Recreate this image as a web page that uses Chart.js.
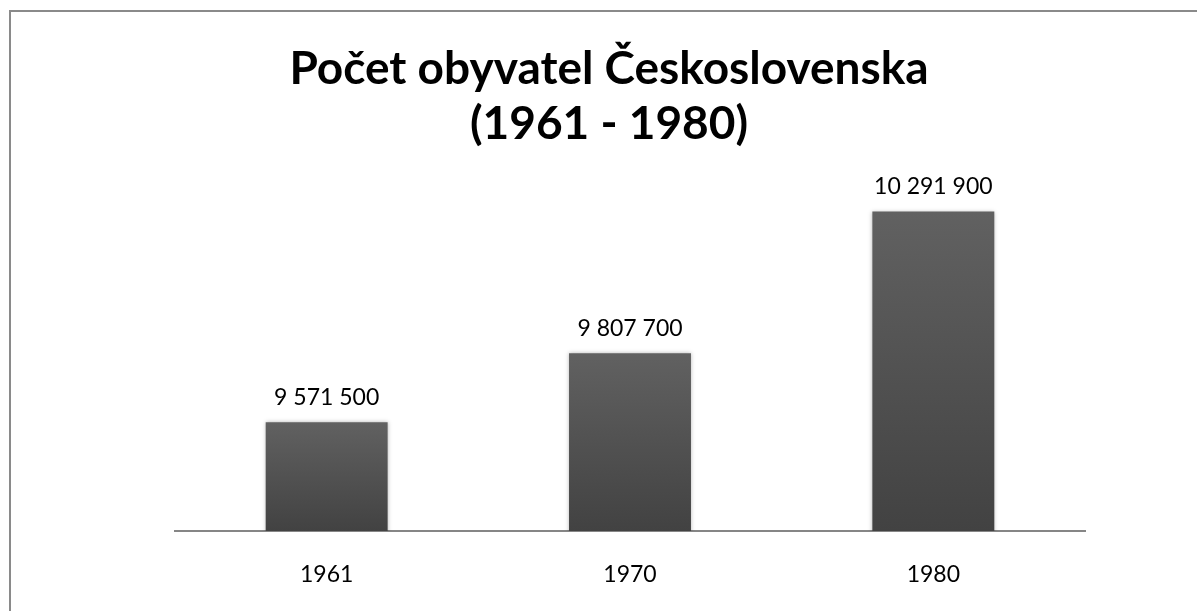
<!DOCTYPE html>
<html>
<head>
<meta charset="utf-8">
<script src="https://cdn.jsdelivr.net/npm/chart.js@4.4.1/dist/chart.umd.min.js"></script>
<style>
  html, body { margin: 0; padding: 0; background: #fff; overflow: hidden; }
  #wrap { position: relative; width: 1197px; height: 611px; }
  #frame { position: absolute; left: 9px; top: 10px; width: 1300px; height: 700px;
           border-top: 2px solid #8a8a8a; border-left: 2px solid #8a8a8a; }
  #myChart { position: absolute; left: 0; top: 0; }
</style>
</head>
<body>
<div id="wrap">
  <div id="frame"></div>
  <canvas id="myChart" width="1197" height="611"></canvas>
</div>
<script>
const years = ['1961', '1970', '1980'];
const population = [9571500, 9807700, 10291900];
const titleLines = ['Počet obyvatel Československa', '(1961 - 1980)'];
const yMin = 9200000;
const yMax = 10400000;

const colors = {
  barTop: '#616161',
  barBottom: '#424242',
  axis: '#868686',
  text: '#000000',
};

// 9571500 -> "9 571 500"
const fmt = (v) => String(v).replace(/\B(?=(\d{3})+(?!\d))/g, ' ');

const barGradient = (c) => {
  const chart = c.chart;
  if (!chart.chartArea || c.parsed == null) return colors.barTop;
  const y = chart.scales.y;
  const top = y.getPixelForValue(c.parsed.y);
  const bottom = y.getPixelForValue(yMin);
  const g = chart.ctx.createLinearGradient(0, top, 0, bottom);
  g.addColorStop(0, colors.barTop);
  g.addColorStop(1, colors.barBottom);
  return g;
};

// soft shadow round the bars, like the office chart
const barShadow = {
  id: 'barShadow',
  beforeDatasetsDraw(chart) {
    const ctx = chart.ctx;
    ctx.save();
    ctx.shadowColor = 'rgba(0, 0, 0, 0.28)';
    ctx.shadowBlur = 4;
    ctx.shadowOffsetX = 0;
    ctx.shadowOffsetY = 0;
  },
  afterDatasetsDraw(chart) {
    chart.ctx.restore();
  },
};

const valueLabels = {
  id: 'valueLabels',
  afterDraw(chart) {
    const ctx = chart.ctx;
    const meta = chart.getDatasetMeta(0);
    ctx.save();
    ctx.font = '23px Lato';
    ctx.fillStyle = colors.text;
    ctx.textAlign = 'center';
    ctx.textBaseline = 'middle';
    meta.data.forEach((bar, i) => {
      ctx.fillText(fmt(population[i]), bar.x, bar.y - 25);
    });
    ctx.restore();
  },
};

const ctx = document.getElementById('myChart').getContext('2d');
new Chart(ctx, {
  type: 'bar',
  data: {
    labels: years,
    datasets: [{
      data: population,
      backgroundColor: barGradient,
      borderWidth: 0,
      categoryPercentage: 1,
      barPercentage: 0.402,
    }],
  },
  options: {
    responsive: false,
    animation: false,
    devicePixelRatio: 1,
    layout: { padding: { left: 21, right: 0, top: 0, bottom: 0 } },
    plugins: {
      legend: { display: false },
      tooltip: { enabled: false },
      title: {
        display: true,
        text: titleLines,
        color: colors.text,
        font: { family: 'Lato', size: 46, weight: 'bold', lineHeight: '55px' },
        padding: { top: 42, bottom: 28 },
      },
    },
    scales: {
      x: {
        grid: { display: false, drawTicks: false },
        border: { display: true, color: colors.axis, width: 2 },
        ticks: { color: colors.text, font: { family: 'Lato', size: 23 }, padding: 30 },
        afterFit(scale) { scale.height = 80; },
      },
      y: {
        min: yMin,
        max: yMax,
        grid: { display: false, drawTicks: false },
        border: { display: false },
        ticks: { display: false },
        afterFit(scale) { scale.width = 154; },
      },
      yr: {
        position: 'right',
        grid: { display: false, drawTicks: false },
        border: { display: false },
        ticks: { display: false },
        afterFit(scale) { scale.width = 112; },
      },
    },
  },
  plugins: [barShadow, valueLabels],
});
</script>
</body>
</html>
